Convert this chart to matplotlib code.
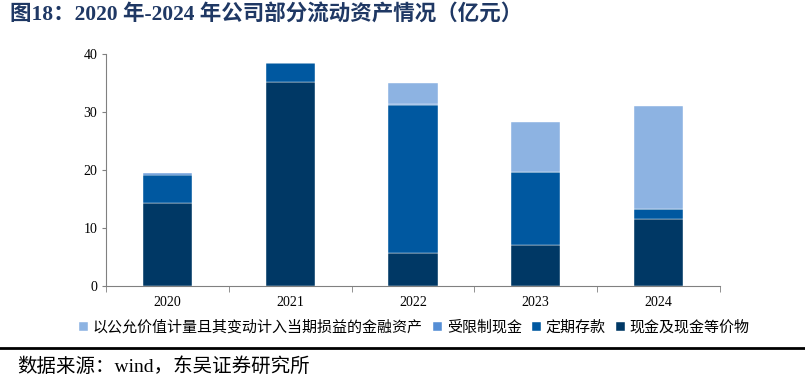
import matplotlib.pyplot as plt
import numpy as np

plt.rcParams['font.family'] = ['Liberation Serif', 'Noto Sans CJK SC', 'DejaVu Sans']

years = ['2020', '2021', '2022', '2023', '2024']
cash = [14.3, 35.2, 5.7, 7.0, 11.6]            # 现金及现金等价物
deposit = [4.9, 3.2, 25.5, 12.6, 1.6]          # 定期存款
restricted = [0.3, 0.1, 0.1, 0.1, 0.0]         # 受限制现金
fvtpl = [0.0, 0.0, 3.6, 8.6, 17.8]             # 以公允价值计量且其变动计入当期损益的金融资产

series = [
    ('现金及现金等价物', cash, '#003865'),
    ('定期存款', deposit, '#0058A0'),
    ('受限制现金', restricted, '#558ED5'),
    ('以公允价值计量且其变动计入当期损益的金融资产', fvtpl, '#8DB3E2'),
]

fig = plt.figure(figsize=(8.05, 3.82), dpi=100)
ax = fig.add_axes([0.132, 0.251, 0.762, 0.608])

x = np.arange(len(years))
bottom = np.zeros(len(years))
handles = []
for name, vals, color in series:
    b = ax.bar(x, vals, width=0.4, bottom=bottom, color=color,
               edgecolor='white', linewidth=0.3, label=name)
    handles.append(b)
    bottom += np.array(vals)

ax.set_xlim(-0.5, len(years) - 0.5)
ax.set_ylim(0, 40)
ax.set_yticks([0, 10, 20, 30, 40])
ax.set_xticks(x)
ax.set_xticklabels(years)
ax.set_xticks(np.arange(-0.5, len(years)), minor=True)
ax.tick_params(axis='x', which='major', length=0, pad=7)
ax.tick_params(axis='x', which='minor', length=4, color='#808080', direction='out')
ax.tick_params(axis='y', length=3, color='#808080', direction='out')
ax.tick_params(labelsize=10, labelcolor='#000000')

for s in ['top', 'right']:
    ax.spines[s].set_visible(False)
for s in ['left', 'bottom']:
    ax.spines[s].set_color('#808080')
    ax.spines[s].set_linewidth(0.8)

# legend order: FVTPL, restricted, deposit, cash
leg = fig.legend(handles[::-1], [h.get_label() for h in handles[::-1]],
                 loc='center', bbox_to_anchor=(0.515, 0.142), ncol=4,
                 frameon=False, handlelength=0.6, handleheight=0.6,
                 handletextpad=0.3, columnspacing=0.7,
                 prop={'family': ['Noto Sans CJK SC'], 'size': 10.8})

fig.text(0.012, 0.963, '图18：2020 年-2024 年公司部分流动资产情况（亿元）',
         fontsize=15.5, fontweight='bold', color='#1F3864',
         family=['Liberation Serif', 'Noto Sans CJK SC'], va='center', ha='left')

fig.add_artist(plt.Line2D([0.0, 1.0], [0.088, 0.088], color='black', linewidth=2.0))

fig.text(0.022, 0.04, '数据来源：wind，东吴证券研究所', fontsize=14,
         family=['Liberation Serif', 'Noto Sans CJK SC'], va='center', ha='left', color='black')

fig.savefig('out.png', dpi=100)
